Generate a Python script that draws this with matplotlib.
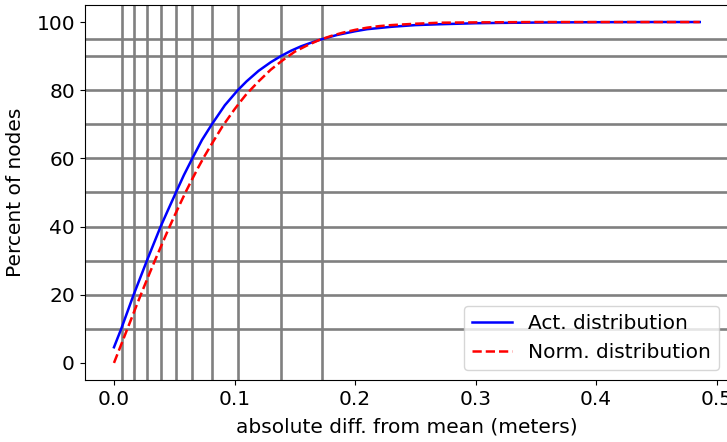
import matplotlib
matplotlib.use("Agg")
import matplotlib.pyplot as plt

act_x = [0.0, 0.006, 0.0163, 0.0273, 0.033, 0.0387, 0.045, 0.0514, 0.058, 0.065, 0.073,
         0.0812, 0.092, 0.1027, 0.11, 0.12, 0.13, 0.1384, 0.147, 0.155, 0.164, 0.1727,
         0.185, 0.2, 0.21, 0.23, 0.25, 0.27, 0.3, 0.32, 0.36, 0.4, 0.45, 0.486]
act_y = [4.6, 10, 20, 30, 35.0, 40, 45.0, 50, 55.1, 60, 65.4,
         70, 75.6, 80, 82.6, 85.7, 88.2, 90, 91.6, 92.85, 94.0, 95,
         96.2, 97.3, 97.9, 98.6, 99.1, 99.35, 99.65, 99.75, 99.88, 99.95, 100, 100]

# Normal distribution
norm_x = [0.0, 0.005, 0.01, 0.015, 0.02, 0.025, 0.03, 0.035, 0.04, 0.045, 0.05, 0.055,
          0.06, 0.065, 0.07, 0.075, 0.08, 0.085, 0.09, 0.095, 0.10, 0.105, 0.11, 0.12,
          0.13, 0.14, 0.15, 0.16, 0.17, 0.18, 0.19, 0.20, 0.21, 0.22, 0.23, 0.25, 0.27,
          0.30, 0.35, 0.40, 0.45, 0.486]
norm_y = [0.0, 4.5, 9.0, 13.5, 18.0, 22.4, 26.7, 30.9, 35.0, 39.1, 43.0, 46.8,
          50.5, 54.0, 57.4, 60.6, 63.6, 66.5, 69.4, 71.9, 74.4, 76.7, 78.9, 82.6,
          86.0, 88.8, 91.3, 93.1, 94.7, 95.9, 96.9, 97.7, 98.35, 98.8, 99.1, 99.5, 99.8,
          99.9, 100, 100, 100, 100]

# Reference lines
hline_levels = [10, 20, 30, 40, 50, 60, 70, 80, 90, 95]
vline_positions = [0.0066, 0.0163, 0.0273, 0.0387, 0.0514, 0.065, 0.0812, 0.1027, 0.1384, 0.1727]

fig = plt.figure(figsize=(7.27, 4.42), dpi=100)
ax = fig.add_axes([0.1165, 0.1403, 1.0028 - 0.1165, 0.9887 - 0.1403])

for v in vline_positions:
    ax.axvline(v, color="gray", lw=1.9)
for h in hline_levels:
    ax.axhline(h, color="gray", lw=1.9)

ax.plot(act_x, act_y, color="blue", lw=1.8, label="Act. distribution")
ax.plot(norm_x, norm_y, color="red", lw=1.8, ls="--", label="Norm. distribution")

ax.set_xlim(-0.0243, 0.5103)
ax.set_ylim(-5, 105)
ax.set_xticks([0.0, 0.1, 0.2, 0.3, 0.4, 0.5])
ax.set_yticks([0, 20, 40, 60, 80, 100])
ax.tick_params(labelsize=14.5)
ax.set_xlabel("absolute diff. from mean (meters)", fontsize=14.5, labelpad=6)
ax.set_ylabel("Percent of nodes", fontsize=14.5, labelpad=8)
ax.legend(loc="lower right", fontsize=14.5)

fig.savefig("out.png", dpi=100)
